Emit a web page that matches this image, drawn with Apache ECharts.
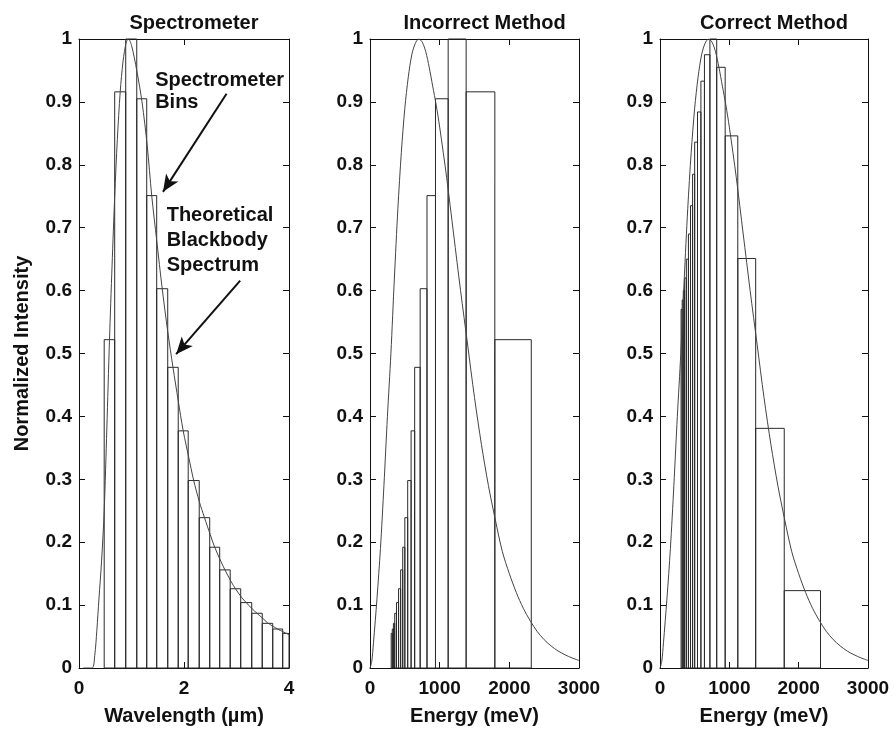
<!DOCTYPE html>
<html>
<head>
<meta charset="utf-8">
<script src="https://cdn.jsdelivr.net/npm/echarts@6/dist/echarts.min.js"></script>
<style>
  html, body { margin: 0; padding: 0; background: #fff; }
  #chart { width: 895px; height: 731px; }
</style>
</head>
<body>
<div id="chart"></div>
<script>
// Spectrometer bin edges (µm) and normalized intensity of each bin
const wavelengthEdges = [0.48, 0.68, 0.89, 1.10, 1.29, 1.48, 1.69, 1.89, 2.08, 2.29, 2.49, 2.68, 2.88, 3.08, 3.29, 3.49, 3.69, 3.88, 4.08];
const binIntensity = [0.522, 0.916, 1.0, 0.905, 0.751, 0.603, 0.478, 0.377, 0.298, 0.239, 0.192, 0.156, 0.126, 0.104, 0.087, 0.071, 0.062, 0.055];

// Same bins mapped onto energy (meV), lowest energy first
const energyEdges = [304, 320, 336, 355, 380, 410, 440, 470, 500, 541, 590, 641, 720, 818, 940, 1122, 1380, 1792, 2315];
const incorrectIntensity = [0.055, 0.062, 0.071, 0.087, 0.104, 0.126, 0.156, 0.192, 0.239, 0.298, 0.377, 0.478, 0.603, 0.751, 0.905, 1.0, 0.916, 0.522];
const correctIntensity = [0.57, 0.585, 0.60, 0.62, 0.65, 0.69, 0.735, 0.785, 0.836, 0.884, 0.933, 0.975, 1.0, 0.955, 0.846, 0.651, 0.381, 0.123];

// Theoretical blackbody spectrum vs wavelength
const wlCurveX = [0.08, 0.25, 0.30, 0.34, 0.38, 0.43, 0.48, 0.53, 0.58, 0.63, 0.68, 0.73, 0.785, 0.84, 0.90, 0.94, 1.00, 1.10, 1.20, 1.30, 1.385, 1.48, 1.585, 1.69, 1.79, 1.89, 1.985, 2.09, 2.185, 2.29, 2.39, 2.50, 2.585, 2.70, 2.78, 2.90, 2.98, 3.10, 3.185, 3.30, 3.39, 3.50, 3.59, 3.70, 3.785, 3.90, 4.00];
const wlCurveY = [0, 0, 0.02, 0.06, 0.11, 0.17, 0.25, 0.38, 0.52, 0.64, 0.75, 0.84, 0.916, 0.965, 0.995, 1.0, 0.99, 0.95, 0.90, 0.83, 0.751, 0.68, 0.603, 0.535, 0.478, 0.425, 0.377, 0.335, 0.298, 0.265, 0.239, 0.212, 0.192, 0.170, 0.156, 0.137, 0.126, 0.112, 0.104, 0.094, 0.087, 0.079, 0.072, 0.066, 0.062, 0.057, 0.053];

// Theoretical blackbody spectrum vs energy
const enCurveX = [0, 25, 50, 100, 150, 200, 250, 300, 350, 400, 450, 500, 550, 600, 650, 700, 750, 800, 850, 900, 950, 1000, 1100, 1200, 1300, 1400, 1500, 1600, 1700, 1800, 1900, 2000, 2100, 2200, 2300, 2400, 2500, 2600, 2700, 2800, 2900, 3000];
const enCurveY = [0, 0.01, 0.04, 0.11, 0.19, 0.29, 0.40, 0.50, 0.62, 0.73, 0.82, 0.89, 0.94, 0.975, 0.993, 1.0, 0.995, 0.98, 0.955, 0.925, 0.895, 0.86, 0.78, 0.69, 0.60, 0.515, 0.43, 0.355, 0.29, 0.235, 0.185, 0.15, 0.12, 0.095, 0.075, 0.058, 0.045, 0.035, 0.027, 0.021, 0.016, 0.012];

const panelTitles = ['Spectrometer', 'Incorrect Method', 'Correct Method'];
const xNames = ['Wavelength (µm)', 'Energy (meV)', 'Energy (meV)'];
const yName = 'Normalized Intensity';

const FONT = '"Liberation Sans", Arial, sans-serif';
const INK = '#111';

function binsOf(edges, heights) {
  return heights.map((h, i) => [edges[i], edges[i + 1], h]);
}
function curveOf(xs, ys) {
  return xs.map((x, i) => [x, ys[i]]);
}

// Outline of one histogram bin, clipped to its plot area
function renderBin(params, api) {
  const p0 = api.coord([api.value(0), 0]);
  const p1 = api.coord([api.value(1), api.value(2)]);
  const rect = echarts.graphic.clipRectByRect(
    { x: p0[0], y: p1[1], width: p1[0] - p0[0], height: p0[1] - p1[1] },
    { x: params.coordSys.x, y: params.coordSys.y, width: params.coordSys.width, height: params.coordSys.height }
  );
  if (!rect) return null;
  return {
    type: 'rect',
    shape: rect,
    style: { fill: 'none', stroke: '#2a2a2a', lineWidth: 1 }
  };
}

const grids = [
  { left: 79, top: 39, width: 210, height: 635 },
  { left: 370, top: 39, width: 209, height: 634 },
  { left: 660, top: 39, width: 208, height: 633 }
];
const xRanges = [[0, 4, 2], [0, 3000, 1000], [0, 3000, 1000]];

const tickFont = { color: INK, fontFamily: FONT, fontWeight: 'bold', fontSize: 19 };
const textFont = { color: INK, fontFamily: FONT, fontWeight: 'bold', fontSize: 20 };
const plainNumber = v => String(+v.toFixed(1));

function tick() {
  return { show: true, inside: true, length: 6, lineStyle: { color: INK, width: 1 } };
}

// Each panel is boxed: labelled bottom/left axes plus mirrored top/right axes
const xAxes = [];
const yAxes = [];
grids.forEach((g, i) => {
  const [mn, mx, iv] = xRanges[i];
  xAxes.push({
    type: 'value', gridIndex: i, min: mn, max: mx, interval: iv, position: 'bottom',
    name: xNames[i], nameLocation: 'middle', nameGap: 38,
    nameTextStyle: textFont,
    axisLine: { show: true, onZero: false, lineStyle: { color: INK, width: 1 } },
    axisTick: tick(),
    axisLabel: Object.assign({ margin: 11, formatter: plainNumber }, tickFont),
    splitLine: { show: false }
  });
  xAxes.push({
    type: 'value', gridIndex: i, min: mn, max: mx, interval: iv, position: 'top',
    axisLine: { show: true, onZero: false, lineStyle: { color: INK, width: 1 } },
    axisTick: tick(),
    axisLabel: { show: false },
    splitLine: { show: false }
  });
  yAxes.push({
    type: 'value', gridIndex: i, min: 0, max: 1, interval: 0.1, position: 'left',
    name: i === 0 ? yName : '', nameLocation: 'middle', nameGap: 47,
    nameTextStyle: textFont,
    axisLine: { show: true, onZero: false, lineStyle: { color: INK, width: 1 } },
    axisTick: tick(),
    axisLabel: Object.assign({ margin: 7, formatter: plainNumber }, tickFont),
    splitLine: { show: false }
  });
  yAxes.push({
    type: 'value', gridIndex: i, min: 0, max: 1, interval: 0.1, position: 'right',
    axisLine: { show: true, onZero: false, lineStyle: { color: INK, width: 1 } },
    axisTick: tick(),
    axisLabel: { show: false },
    splitLine: { show: false }
  });
});

const curveStyle = { color: '#444', width: 1 };
const annotLabel = Object.assign({
  show: true, position: 'right', distance: 0, align: 'left'
}, textFont);

const series = [
  {
    type: 'custom', name: 'bins-wavelength', xAxisIndex: 0, yAxisIndex: 0,
    renderItem: renderBin, encode: { x: [0, 1], y: 2 },
    data: binsOf(wavelengthEdges, binIntensity), silent: true, z: 2
  },
  {
    type: 'line', name: 'blackbody-wavelength', xAxisIndex: 0, yAxisIndex: 0,
    data: curveOf(wlCurveX, wlCurveY), showSymbol: false, smooth: 0.3,
    lineStyle: curveStyle, silent: true, z: 3,
    markLine: {
      silent: true, symbol: ['none', 'arrow'], symbolSize: [11, 17],
      lineStyle: { color: INK, width: 2, type: 'solid' },
      label: { show: false },
      data: [
        [{ coord: [2.81, 0.913] }, { coord: [1.60, 0.757] }],
        [{ coord: [3.07, 0.616] }, { coord: [1.85, 0.499] }]
      ]
    },
    markPoint: {
      silent: true, symbol: 'circle', symbolSize: 0,
      data: [
        { coord: [1.45, 0.917], label: Object.assign({ formatter: 'Spectrometer\nBins', lineHeight: 22 }, annotLabel) },
        { coord: [1.67, 0.679], label: Object.assign({ formatter: 'Theoretical\nBlackbody\nSpectrum', lineHeight: 25 }, annotLabel) }
      ]
    }
  },
  {
    type: 'custom', name: 'bins-incorrect', xAxisIndex: 2, yAxisIndex: 2,
    renderItem: renderBin, encode: { x: [0, 1], y: 2 },
    data: binsOf(energyEdges, incorrectIntensity), silent: true, z: 2
  },
  {
    type: 'line', name: 'blackbody-incorrect', xAxisIndex: 2, yAxisIndex: 2,
    data: curveOf(enCurveX, enCurveY), showSymbol: false, smooth: 0.3,
    lineStyle: curveStyle, silent: true, z: 3
  },
  {
    type: 'custom', name: 'bins-correct', xAxisIndex: 4, yAxisIndex: 4,
    renderItem: renderBin, encode: { x: [0, 1], y: 2 },
    data: binsOf(energyEdges, correctIntensity), silent: true, z: 2
  },
  {
    type: 'line', name: 'blackbody-correct', xAxisIndex: 4, yAxisIndex: 4,
    data: curveOf(enCurveX, enCurveY), showSymbol: false, smooth: 0.3,
    lineStyle: curveStyle, silent: true, z: 3
  }
];

const titles = grids.map((g, i) => ({
  text: panelTitles[i],
  left: g.left + g.width / 2 + 5,
  top: 8,
  textAlign: 'center',
  textStyle: textFont
}));

const chart = echarts.init(document.getElementById('chart'), null, { renderer: 'canvas' });
chart.setOption({
  backgroundColor: '#fff',
  animation: false,
  title: titles,
  grid: grids,
  xAxis: xAxes,
  yAxis: yAxes,
  series: series
});
</script>
</body>
</html>
